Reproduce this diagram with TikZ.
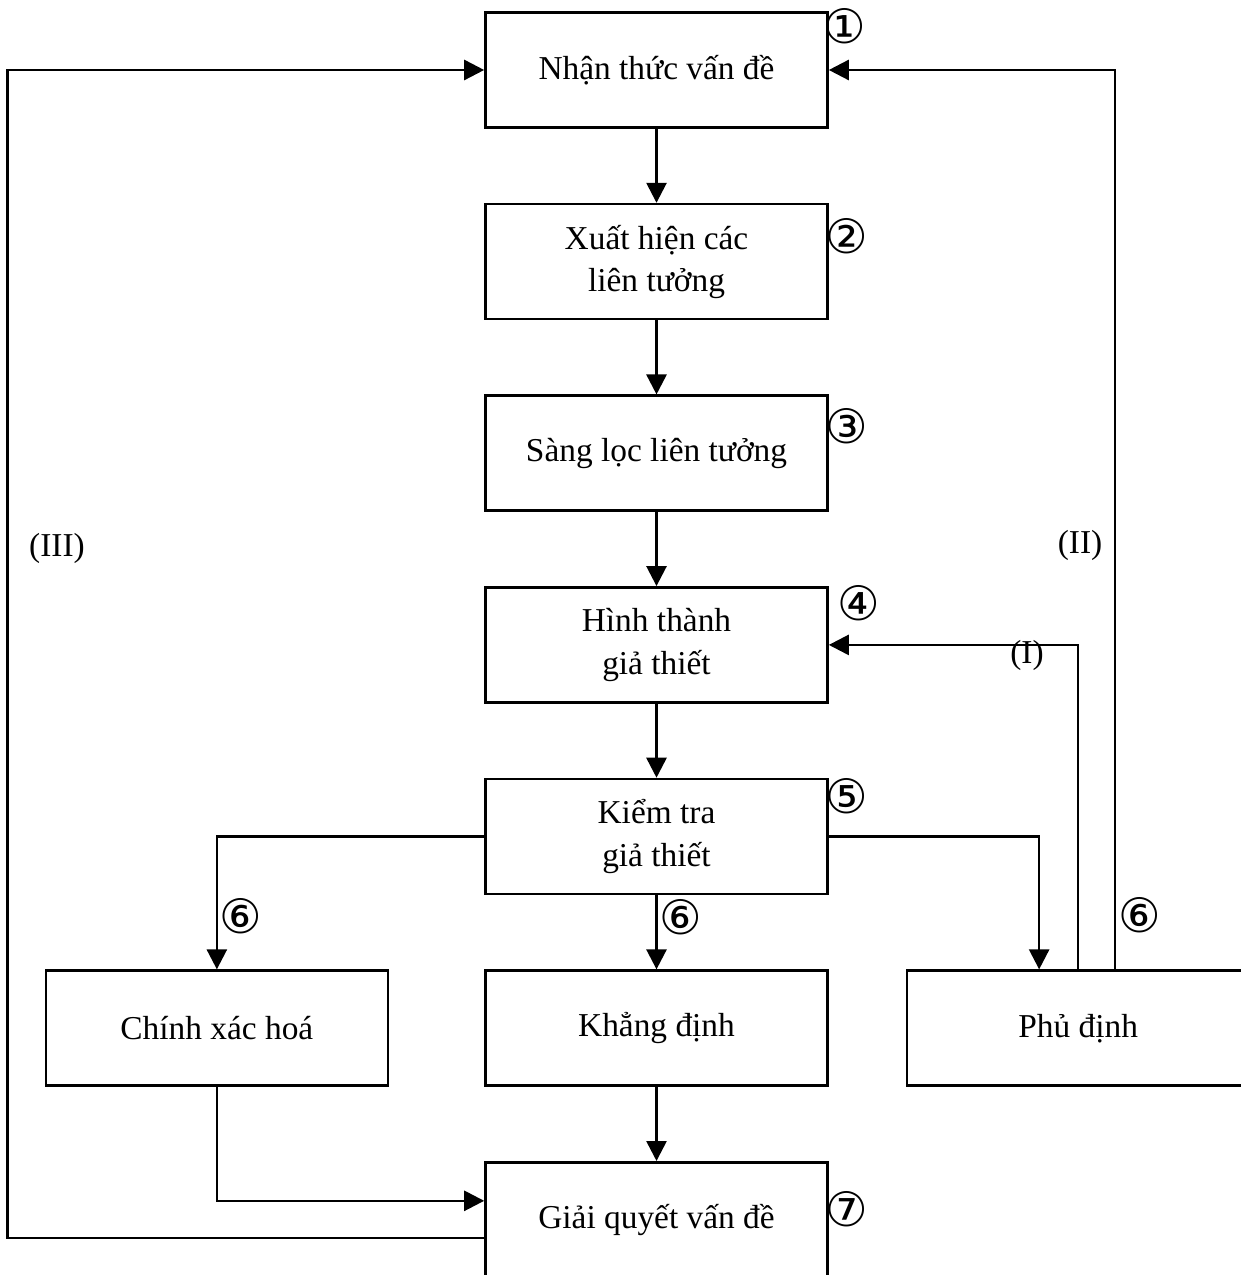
\documentclass[tikz,border=0pt]{standalone}
\usepackage{fontspec}
\setmainfont{Liberation Serif}
\newfontfamily\circfont{DejaVu Sans}
\usetikzlibrary{arrows.meta,positioning,calc}
\tikzset{
  >={Triangle[length=4mm,width=4mm]},
  every node/.style={font=\fontsize{19}{24}\selectfont},
  box/.style={draw,line width=1.5pt,minimum width=68.4mm,minimum height=23mm,align=center,inner sep=2pt},
  arrow/.style={->,line width=1.5pt},
  num/.style={font=\circfont\fontsize{27}{27}\selectfont,inner sep=1pt},
  tag/.style={inner sep=1pt},
}
\begin{document}
\begin{tikzpicture}[node distance=14.8mm and 19mm]
\useasboundingbox (0,0) rectangle (24.8,-25.5);

% main column
\node[box] (nt) at (13.13,-1.40) {Nhận thức vấn đề};
\node[box,below=of nt] (xh) {Xuất hiện các\\liên tưởng};
\node[box,below=of xh] (sl) {Sàng lọc liên tưởng};
\node[box,below=of sl] (ht) {Hình thành\\giả thiết};
\node[box,below=of ht] (kt) {Kiểm tra\\giả thiết};
\node[box,below=of kt] (kd) {Khẳng định};
\node[box,left=of kd] (cx) {Chính xác hoá};
\node[box,right=15.4mm of kd] (pd) {Phủ định};
\node[box,below=of kd] (gq) {Giải quyết vấn đề};

\draw[arrow] (nt) -- (xh);\draw[arrow] (xh) -- (sl);\draw[arrow] (sl) -- (ht);
\draw[arrow] (ht) -- (kt);
\draw[arrow] (kt) -- node[num,right,pos=0.3]{⑥} (kd);
\draw[arrow] (kd) -- (gq);
\draw[arrow] (kt.west) -| node[num,right,pos=0.8]{⑥} (cx.north);
\draw[arrow] (kt.east) -| ($(pd.north)+(-0.78,0)$);
\draw[arrow] (cx.south) |- ($(gq.west)+(0,0.38)$);

% feedback loops
\draw[arrow] (pd.north) |- (ht.east);
\draw[arrow] ($(pd.north)+(0.74,0)$) |- node[num,right,pos=0.03]{⑥} (nt.east);
\draw[arrow] ($(gq.west)+(0,-0.36)$) -- ($(gq.west)+(-9.54,-0.36)$) |- (nt.west);
\node[tag] (l1) at (20.54,-13.1) {(I)};
\node[tag] (l2) at (21.6,-10.9) {(II)};
\node[tag] (l3) at (1.14,-10.96) {(III)};

% step numbers
\node[num] (n1) at ($(nt.north east)+(0.32,-0.3)$) {①};
\node[num] (n2) at ($(xh.north east)+(0.36,-0.66)$) {②};
\node[num] (n3) at ($(sl.north east)+(0.36,-0.64)$) {③};
\node[num] (n4) at ($(ht.north east)+(0.6,-0.34)$) {④};
\node[num] (n5) at ($(kt.north east)+(0.36,-0.36)$) {⑤};
\node[num] (n7) at ($(gq.north east)+(0.36,-0.96)$) {⑦};
\end{tikzpicture}
\end{document}
